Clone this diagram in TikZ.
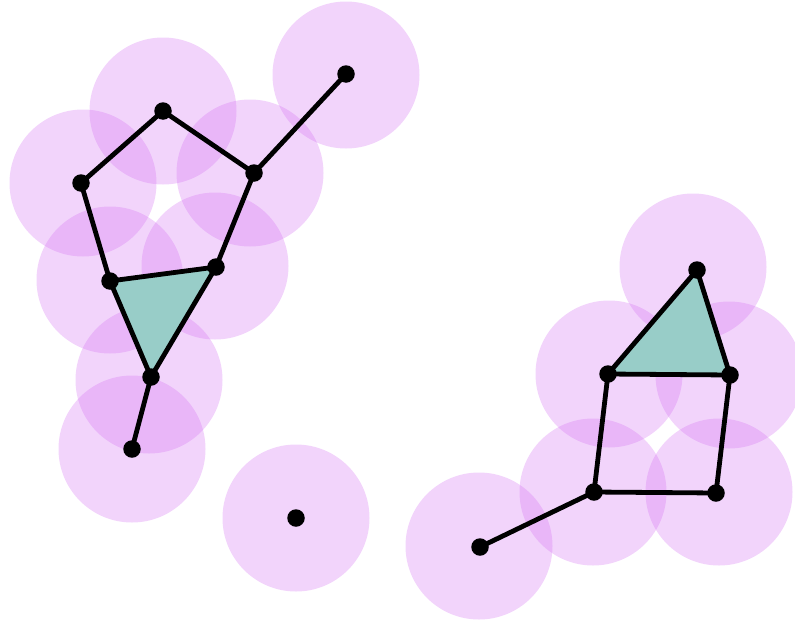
\documentclass[tikz,border=0pt]{standalone}
\begin{document}
\begin{tikzpicture}[x=1pt,y=-1pt,
  ball/.style={fill={rgb,255:red,212;green,112;blue,242},fill opacity=0.3},
  edge/.style={line width=4.8pt,draw=black,line cap=round,line join=round},
  face/.style={fill={rgb,255:red,152;green,205;blue,200}},
  vtx/.style={circle,fill=black,inner sep=0pt,minimum size=17.5pt}]
\useasboundingbox (0,0) rectangle (795,624);
% vertex positions
\foreach \n/\x/\y in {a/163/111,b/81/183,c/254/173,d/346/74,e/110/281,f/216/267,g/151/377,h/132/449,i/296/518,j/697/270,k/608/374,l/730/375,m/594/492,n/716/493,o/480/547}
  \coordinate (\n) at (\x,\y);
% ball centres
\foreach \n/\x/\y in {a/163/111,b/83/183,c/250/173,d/346/75,e/110/280,f/215/266,g/149/380,h/132/449,i/296/518,j/693/267,k/609/374,l/729/375,m/593/492,n/719/492,o/479/546}
  \coordinate (c\n) at (\x,\y);
% balls
\foreach \n in {a,b,c,d,e,f,g,h,i,j,k,l,m,n,o}
  \fill[ball] (c\n) circle (73.5);
% filled triangles
\fill[face] (e) -- (f) -- (g) -- cycle;
\fill[face] (j) -- (k) -- (l) -- cycle;
% edges
\draw[edge] (b) -- (a) -- (c) -- (d);
\draw[edge] (c) -- (f);
\draw[edge] (b) -- (e);
\draw[edge] (e) -- (f) -- (g) -- (e);
\draw[edge] (g) -- (h);
\draw[edge] (j) -- (k) -- (l) -- (j);
\draw[edge] (k) -- (m) -- (n) -- (l);
\draw[edge] (m) -- (o);
% vertices
\foreach \n in {a,b,c,d,e,f,g,h,i,j,k,l,m,n,o}
  \node[vtx] (v\n) at (\n) {};
\end{tikzpicture}
\end{document}
